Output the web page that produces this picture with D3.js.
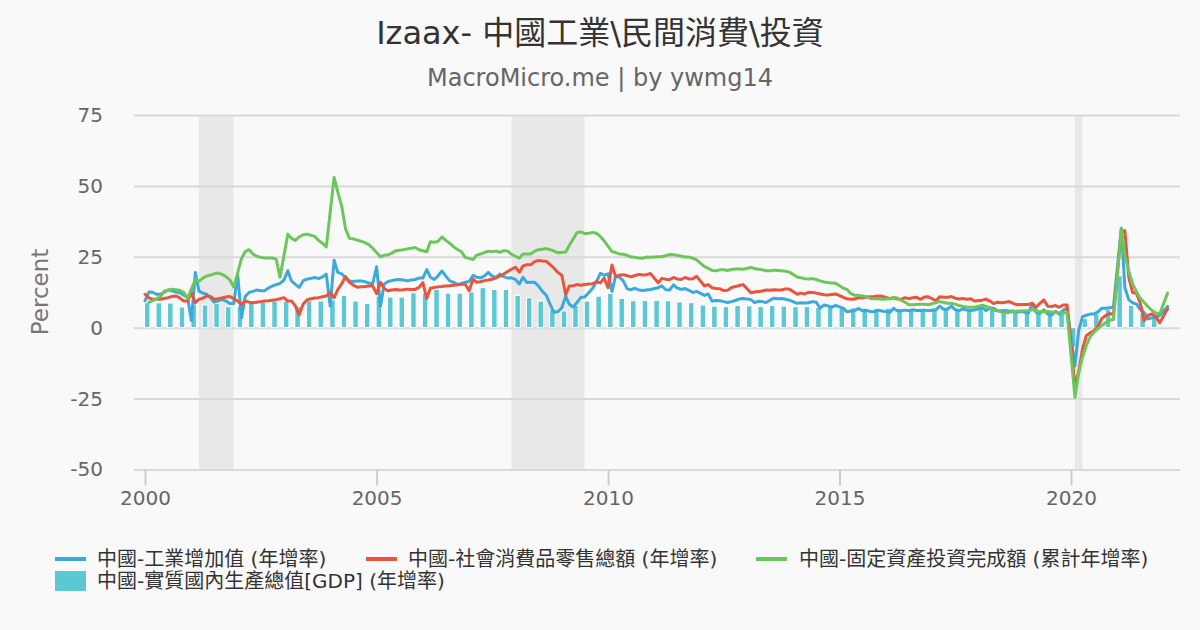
<!DOCTYPE html>
<html><head><meta charset="utf-8">
<script src="https://cdn.jsdelivr.net/npm/d3@7"></script>
<style>body{margin:0;background:#f9f9f9} svg{display:block}</style>
</head><body>
<svg id="chart" width="1200" height="630"></svg>
<script>
// ---------- DATA (monthly, starting Jan 2000; null = not published) ----------
const firstMonth = [2000, 0];
const ipYoY = [
  9.5,12.6,12.5,11.8,11.8,12.5,13.3,13.0,12.6,12.3,11.5,10.8,
  2.5,19.5,13.0,12.2,11.8,10.5,9.0,9.5,10.0,9.4,8.5,8.5,
  18.5,3.5,11.0,12.4,12.8,13.3,13.0,13.0,14.0,14.7,15.2,15.6,
  16.8,20.1,16.5,15.3,14.2,16.5,17.1,17.4,17.7,17.3,17.9,18.9,
  7.6,23.8,19.5,19.0,17.5,16.5,16.3,16.5,16.5,16.2,15.8,15.4,
  21.5,7.6,15.3,16.3,16.6,16.9,17.0,16.8,16.5,16.8,17.0,17.5,
  17.5,20.5,17.8,17.0,18.3,20.0,18.2,16.5,16.0,15.2,15.6,16.0,
  16.3,18.5,17.8,17.6,18.2,19.5,18.2,17.7,18.9,18.0,17.5,17.6,
  17.0,15.4,17.8,15.9,16.0,16.0,14.7,12.8,11.4,8.2,5.4,5.7,
  7.0,11.0,8.3,7.3,8.9,10.7,10.8,12.3,13.9,16.1,19.2,18.5,
  19.0,12.8,18.1,17.8,16.5,13.7,13.4,13.9,13.3,13.1,13.3,13.5,
  null,14.1,14.8,13.4,13.3,15.1,14.0,13.5,13.8,13.2,12.4,12.8,
  null,11.4,11.9,9.3,9.6,9.5,9.2,8.9,9.2,9.6,10.1,10.3,
  null,9.9,8.9,9.3,9.2,8.9,9.7,10.4,10.2,10.3,10.0,9.7,
  null,8.6,8.8,8.7,8.8,9.2,9.0,6.9,8.0,7.7,7.2,7.9,
  null,6.8,5.6,5.9,6.1,6.8,6.0,6.1,5.7,5.6,6.2,5.9,
  null,5.4,6.8,6.0,6.0,6.2,6.0,6.3,6.1,6.1,6.2,6.0,
  null,6.3,7.6,6.5,6.5,7.6,6.4,6.0,6.6,6.2,6.1,6.2,
  null,7.2,6.0,7.0,6.8,6.0,6.0,6.1,5.8,5.9,5.4,5.7,
  null,5.3,8.5,5.4,5.0,6.3,4.8,4.4,5.8,4.7,6.2,6.9,
  null,-13.5,-1.1,3.9,4.4,4.8,4.8,5.6,6.9,6.9,7.0,7.3,
  null,35.1,14.1,9.8,8.8,8.3,6.4,5.3,3.1,3.5,3.8,4.3,
  null,7.5
];
const retailYoY = [
  11.8,10.5,10.0,10.0,10.0,10.3,10.6,11.0,11.2,10.5,9.4,9.4,
  12.4,8.8,10.0,10.4,11.2,11.0,10.0,10.2,10.5,10.8,11.0,10.2,
  9.4,8.2,9.4,9.0,8.8,9.0,9.2,9.4,9.5,9.7,9.9,10.2,
  10.6,9.4,9.4,7.7,4.5,8.3,9.8,10.2,10.5,10.6,10.9,11.2,
  12.4,10.6,13.4,15.5,18.0,16.0,15.0,14.3,14.4,14.5,14.7,14.7,
  12.0,16.0,13.8,13.0,13.3,13.5,13.3,13.4,13.6,13.5,13.5,14.2,
  15.9,10.3,13.9,14.2,14.4,14.5,14.7,14.8,15.0,15.1,15.3,15.3,
  13.0,17.1,16.0,16.2,16.6,16.8,17.1,17.5,18.3,18.9,19.8,20.6,
  21.3,19.6,21.8,22.2,22.2,23.3,23.7,23.5,23.4,22.2,21.0,19.5,
  18.5,11.6,14.7,14.8,15.2,15.0,15.2,15.4,15.5,16.2,15.8,17.5,
  14.1,22.1,18.0,18.5,18.7,18.3,17.9,18.4,18.8,18.6,18.7,19.1,
  null,15.8,17.4,17.1,16.9,17.7,17.2,17.0,17.7,17.2,17.3,18.1,
  null,14.7,15.2,14.1,13.8,13.7,13.1,13.2,14.2,14.5,14.9,15.2,
  null,12.3,12.6,12.8,12.9,13.3,13.2,13.4,13.3,13.3,13.7,13.6,
  null,11.8,12.2,11.9,12.5,12.4,12.2,11.9,11.6,11.5,11.7,11.9,
  null,10.7,10.2,10.0,10.1,10.6,10.5,10.8,10.9,11.0,11.2,11.1,
  null,10.2,10.5,10.1,10.0,10.6,10.2,10.6,10.7,10.0,10.8,10.9,
  null,9.5,10.9,10.7,10.7,11.0,10.4,10.1,10.3,10.0,10.2,9.4,
  null,9.7,10.1,9.4,8.5,9.0,8.8,9.0,9.2,8.6,8.1,8.2,
  null,8.2,8.7,7.2,8.6,9.8,7.6,7.5,7.8,7.2,8.0,8.0,
  null,-20.5,-15.8,-7.5,-2.8,-1.8,-1.1,0.5,3.3,4.3,5.0,4.6,
  null,33.8,34.2,17.7,12.4,12.1,8.5,2.5,4.4,4.9,3.9,1.7,
  null,6.7
];
const faiYoY = [
  null,8.9,9.5,10.2,11.0,12.9,13.2,13.6,13.4,13.2,12.5,10.3,
  null,17.0,16.3,17.5,18.2,18.6,19.0,19.3,18.8,18.0,16.8,14.3,
  null,24.5,26.8,27.5,26.0,25.2,24.8,24.6,24.6,24.6,24.2,17.8,
  null,33.0,31.5,30.8,32.0,32.8,33.0,32.6,32.2,30.8,29.8,28.5,
  null,53.0,47.8,42.8,34.8,31.5,31.3,30.9,30.5,30.0,29.3,28.0,
  null,25.0,25.5,25.7,26.3,27.1,27.3,27.5,27.8,28.0,28.3,27.5,
  null,26.8,30.3,30.1,30.5,32.0,30.8,29.8,28.5,27.6,26.8,24.8,
  null,24.0,25.6,26.0,26.5,27.0,26.8,27.0,26.6,27.2,27.0,25.9,
  null,24.5,26.0,26.0,26.0,27.0,27.5,27.7,27.9,27.5,27.0,26.4,
  null,26.7,29.0,31.3,33.5,33.8,33.2,33.3,33.6,33.3,32.2,30.6,
  null,26.8,26.5,26.0,25.9,25.5,24.9,24.8,24.6,24.5,24.9,24.8,
  null,25.0,25.0,25.4,25.8,25.7,25.5,25.2,24.9,24.9,24.5,23.9,
  null,21.5,20.9,20.2,20.1,20.4,20.4,20.2,20.5,20.7,20.7,20.6,
  null,21.2,20.9,20.6,20.4,20.1,20.1,20.3,20.2,20.1,19.9,19.6,
  null,17.9,17.6,17.3,17.2,17.3,17.0,16.5,16.1,15.9,15.8,15.7,
  null,13.9,13.5,12.0,11.4,11.4,11.2,10.9,10.3,10.2,10.2,10.0,
  null,10.2,10.7,10.5,9.6,9.0,8.1,8.1,8.2,8.3,8.3,8.1,
  null,8.9,9.2,8.9,8.6,8.6,8.3,7.8,7.5,7.3,7.2,7.2,
  null,7.9,7.5,7.0,6.1,6.0,5.5,5.3,5.4,5.7,5.9,5.9,
  null,6.1,6.3,6.1,5.6,5.8,5.7,5.5,5.4,5.2,5.2,5.4,
  null,-24.5,-16.1,-10.3,-6.3,-3.1,-1.6,-0.3,0.8,1.8,2.6,2.9,
  null,35.0,25.6,19.9,15.4,12.6,10.3,8.9,7.3,6.1,5.2,4.9,
  null,12.2
];
// quarterly real GDP YoY, 2000Q1 .. 2021Q4
const gdpYoY = [
  8.8,8.8,8.7,7.3, 8.3,8.0,8.5,7.4, 7.6,8.8,9.0,9.4, 9.4,7.4,9.5,9.4,
  9.8,11.4,9.4,8.6, 11.1,10.8,10.8,12.3, 12.2,13.5,12.2,12.2, 12.6,14.1,13.5,13.5,
  11.4,10.6,9.4,6.6, 5.9,7.9,9.4,11.1, 12.1,10.3,9.5,9.6, 9.6,9.5,9.1,8.8,
  8.0,7.6,7.4,7.8, 7.7,7.5,7.8,7.6, 7.4,7.5,7.2,7.2, 7.0,7.0,6.9,6.8,
  6.9,6.7,6.7,6.8, 6.9,6.9,6.8,6.8, 6.8,6.7,6.5,6.4, 6.3,6.0,6.0,5.8,
  -6.8,3.2,4.9,6.5, 18.3,7.9,4.9,4.0
];
const yTickValues = [-50, -25, 0, 25, 50, 75];
const xTickYears = [2000, 2005, 2010, 2015, 2020];
const recessionStarts = ["2001-03-01", "2007-12-01", "2020-02-01"];
const recessionEnds   = ["2001-11-30", "2009-06-30", "2020-03-31"];
const seriesLabels = ["中國-工業增加值 (年增率)", "中國-社會消費品零售總額 (年增率)", "中國-固定資產投資完成額 (累計年增率)", "中國-實質國內生產總值[GDP] (年增率)"];
const titleText = "Izaax- 中國工業\\民間消費\\投資";
const subtitleText = "MacroMicro.me | by ywmg14";

// ---------- STYLE ----------
const C = { ip: "#3ca9dc", retail: "#e9543d", fai: "#6cc75b", gdp: "#5bc8d4" };
const FONT = "'DejaVu Sans', 'Noto Sans CJK TC', sans-serif";
const plotL = 134, plotR = 1180;

const svg = d3.select("#chart");
svg.append("rect").attr("width", 1200).attr("height", 630).attr("fill", "#f9f9f9");

const x = d3.scaleTime().domain([new Date(2000, 0, 1), new Date(2020, 0, 1)]).range([145, 1071]);
const y = d3.scaleLinear().domain([-50, 75]).range([469.5, 115]);

const monthDate = i => new Date(firstMonth[0], firstMonth[1] + i, 1);
const toPts = arr => arr.map((v, i) => ({ d: monthDate(i), v })).filter(p => p.v !== null);

// recession bands
const parse = d3.timeParse("%Y-%m-%d");
svg.append("g").selectAll("rect").data(recessionStarts.map((s, i) => [parse(s), parse(recessionEnds[i])]))
  .join("rect")
  .attr("x", d => x(d[0])).attr("width", d => x(d[1]) - x(d[0]))
  .attr("y", y(75)).attr("height", y(-50) - y(75))
  .attr("fill", "#e8e8e8");

// gridlines + y labels
const yAxis = d3.axisLeft(y).tickValues(yTickValues).tickFormat(d => String(d))
  .tickSize(-(plotR - plotL)).tickPadding(31);
const gy = svg.append("g").attr("transform", `translate(${plotL},0)`).call(yAxis);
gy.select(".domain").remove();
gy.selectAll(".tick line").attr("stroke", "#d9d9d9").attr("stroke-width", 2);
gy.selectAll(".tick text").attr("font-family", FONT).attr("font-size", 20).attr("fill", "#666");

// x axis
const xAxis = d3.axisBottom(x).tickValues(xTickYears.map(yr => new Date(yr, 0, 1)))
  .tickFormat(d3.timeFormat("%Y")).tickSize(16).tickPadding(5);
const gx = svg.append("g").attr("transform", `translate(0,${y(-50)})`).call(xAxis);
gx.select(".domain").remove();
gx.selectAll(".tick line").attr("stroke", "#cccccc").attr("stroke-width", 2);
gx.selectAll(".tick text").attr("font-family", FONT).attr("font-size", 20).attr("fill", "#666");

// y axis title
svg.append("text").attr("transform", "translate(48,292) rotate(-90)")
  .attr("text-anchor", "middle").attr("font-family", FONT).attr("font-size", 23)
  .attr("fill", "#777").text("Percent");

// GDP bars
const gdpPts = gdpYoY.map((v, i) => ({ d: new Date(2000, i * 3, 1), v }));
svg.append("g").selectAll("rect").data(gdpPts).join("rect")
  .attr("x", d => x(d.d) - 0.5).attr("width", 5.5)
  .attr("y", d => y(Math.max(0, d.v))).attr("height", d => Math.abs(y(d.v) - y(0)))
  .attr("fill", C.gdp).attr("stroke", "#ffffff").attr("stroke-width", 1);

// lines
const line = d3.line().x(p => x(p.d)).y(p => y(p.v));
[[ipYoY, C.ip], [retailYoY, C.retail], [faiYoY, C.fai]].forEach(([arr, col]) => {
  svg.append("path").datum(toPts(arr)).attr("d", line)
    .attr("fill", "none").attr("stroke", col).attr("stroke-width", 3)
    .attr("stroke-linejoin", "round").attr("stroke-linecap", "round");
});

// title
svg.append("text").attr("x", 600).attr("y", 44).attr("text-anchor", "middle")
  .attr("font-family", FONT).attr("font-size", 32).attr("fill", "#333").text(titleText);
svg.append("text").attr("x", 600).attr("y", 86).attr("text-anchor", "middle")
  .attr("font-family", FONT).attr("font-size", 24).attr("fill", "#666").text(subtitleText);

// legend
const legendItems = [
  { label: seriesLabels[0], color: C.ip, type: "line", sx: 55, tx: 97, ty: 559 },
  { label: seriesLabels[1], color: C.retail, type: "line", sx: 366, tx: 408, ty: 559 },
  { label: seriesLabels[2], color: C.fai, type: "line", sx: 756, tx: 799, ty: 559 },
  { label: seriesLabels[3], color: C.gdp, type: "rect", sx: 55, tx: 97, ty: 581 }
];
const lg = svg.append("g").selectAll("g").data(legendItems).join("g");
lg.filter(d => d.type === "line").append("line")
  .attr("x1", d => d.sx).attr("x2", d => d.sx + 31).attr("y1", d => d.ty).attr("y2", d => d.ty)
  .attr("stroke", d => d.color).attr("stroke-width", 4);
lg.filter(d => d.type === "rect").append("rect")
  .attr("x", d => d.sx).attr("width", 31).attr("y", d => d.ty - 10).attr("height", 20)
  .attr("fill", d => d.color);
lg.append("text").attr("x", d => d.tx).attr("y", d => d.ty).attr("dy", "0.35em")
  .attr("font-family", FONT).attr("font-size", 20).attr("fill", "#333").text(d => d.label);
</script>
</body></html>
